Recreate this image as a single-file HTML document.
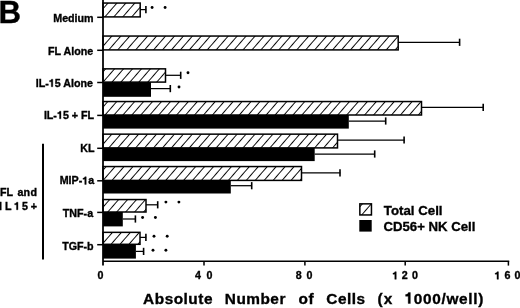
<!DOCTYPE html><html><head><meta charset="utf-8"><style>html,body{margin:0;padding:0;background:#fff;}body{width:520px;height:308px;overflow:hidden;}svg{display:block;}text{font-family:"Liberation Sans",sans-serif;font-weight:bold;fill:#000;stroke:#000;stroke-width:0.35px;}svg{will-change:transform;}.o{fill:none;stroke:none;}</style></head><body><svg width="520" height="308" viewBox="0 0 520 308"><defs><pattern id="p0" patternUnits="userSpaceOnUse" width="6.755" height="6.755" patternTransform="translate(7.697 0) rotate(41.0)"><line x1="3.377" y1="-1" x2="3.377" y2="7.755" stroke="#000" stroke-width="0.95"/></pattern><pattern id="p1" patternUnits="userSpaceOnUse" width="6.755" height="6.755" patternTransform="translate(4.483 0) rotate(41.0)"><line x1="3.377" y1="-1" x2="3.377" y2="7.755" stroke="#000" stroke-width="0.95"/></pattern><pattern id="p2" patternUnits="userSpaceOnUse" width="6.755" height="6.755" patternTransform="translate(8.848 0) rotate(41.0)"><line x1="3.377" y1="-1" x2="3.377" y2="7.755" stroke="#000" stroke-width="0.95"/></pattern><pattern id="p3" patternUnits="userSpaceOnUse" width="6.755" height="6.755" patternTransform="translate(3.648 0) rotate(41.0)"><line x1="3.377" y1="-1" x2="3.377" y2="7.755" stroke="#000" stroke-width="0.95"/></pattern><pattern id="p4" patternUnits="userSpaceOnUse" width="6.755" height="6.755" patternTransform="translate(0.173 0) rotate(41.0)"><line x1="3.377" y1="-1" x2="3.377" y2="7.755" stroke="#000" stroke-width="0.95"/></pattern><pattern id="p5" patternUnits="userSpaceOnUse" width="6.755" height="6.755" patternTransform="translate(4.799 0) rotate(41.0)"><line x1="3.377" y1="-1" x2="3.377" y2="7.755" stroke="#000" stroke-width="0.95"/></pattern><pattern id="p6" patternUnits="userSpaceOnUse" width="6.755" height="6.755" patternTransform="translate(1.195 0) rotate(41.0)"><line x1="3.377" y1="-1" x2="3.377" y2="7.755" stroke="#000" stroke-width="0.95"/></pattern><pattern id="p7" patternUnits="userSpaceOnUse" width="6.755" height="6.755" patternTransform="translate(5.694 0) rotate(41.0)"><line x1="3.377" y1="-1" x2="3.377" y2="7.755" stroke="#000" stroke-width="0.95"/></pattern><pattern id="p8" patternUnits="userSpaceOnUse" width="6.755" height="6.755" patternTransform="translate(7.026 0) rotate(41.0)"><line x1="3.377" y1="-1" x2="3.377" y2="7.755" stroke="#000" stroke-width="0.95"/></pattern></defs><rect width="520" height="308" fill="#fff"/><text x="-1.49" y="22.60" font-size="31.2">B</text><rect x="103.0" y="3.05" width="37.20" height="13.85" fill="url(#p0)" stroke="#000" stroke-width="1.5"/><path d="M140.20 9.60H146.20" stroke="#000" stroke-width="1.25" fill="none"/><path d="M145.90 6.00V13.20" stroke="#000" stroke-width="1.6" fill="none"/><circle cx="152.1" cy="7.5" r="1.45"/><circle cx="165.1" cy="7.5" r="1.45"/><path d="M97.2 17.30H103.0" stroke="#000" stroke-width="1.5"/><text x="53.24" y="22.00" font-size="10.7">Medium</text><rect x="103.0" y="36.05" width="295.20" height="13.85" fill="url(#p1)" stroke="#000" stroke-width="1.5"/><path d="M398.20 42.30H459.90" stroke="#000" stroke-width="1.25" fill="none"/><path d="M459.60 38.70V45.90" stroke="#000" stroke-width="1.6" fill="none"/><path d="M97.2 50.30H103.0" stroke="#000" stroke-width="1.5"/><text x="48.10" y="54.80" font-size="10.7">FL Alone</text><rect x="103.0" y="68.85" width="62.50" height="13.25" fill="url(#p2)" stroke="#000" stroke-width="1.5"/><path d="M165.50 75.30H181.00" stroke="#000" stroke-width="1.25" fill="none"/><path d="M180.70 71.70V78.90" stroke="#000" stroke-width="1.6" fill="none"/><circle cx="188.0" cy="72.8" r="1.45"/><rect x="103.0" y="82.10" width="48.00" height="14.70" fill="#000"/><path d="M151.00 88.60H170.60" stroke="#000" stroke-width="1.25" fill="none"/><path d="M170.30 85.00V92.20" stroke="#000" stroke-width="1.6" fill="none"/><circle cx="179.0" cy="87.0" r="1.45"/><path d="M97.2 82.50H103.0" stroke="#000" stroke-width="1.5"/><text x="35.70" y="86.80" font-size="10.7">IL-<tspan class="o">1</tspan>5 Alone</text><rect x="103.0" y="101.55" width="318.50" height="13.45" fill="url(#p3)" stroke="#000" stroke-width="1.5"/><path d="M421.50 107.30H483.50" stroke="#000" stroke-width="1.25" fill="none"/><path d="M483.20 103.70V110.90" stroke="#000" stroke-width="1.6" fill="none"/><rect x="103.0" y="115.00" width="245.80" height="13.60" fill="#000"/><path d="M348.80 121.00H386.00" stroke="#000" stroke-width="1.25" fill="none"/><path d="M385.70 117.40V124.60" stroke="#000" stroke-width="1.6" fill="none"/><path d="M97.2 115.40H103.0" stroke="#000" stroke-width="1.5"/><text x="43.89" y="118.80" font-size="10.7">IL-<tspan class="o">1</tspan>5 + FL</text><rect x="103.0" y="134.15" width="234.50" height="13.75" fill="url(#p4)" stroke="#000" stroke-width="1.5"/><path d="M337.50 140.00H404.40" stroke="#000" stroke-width="1.25" fill="none"/><path d="M404.10 136.40V143.60" stroke="#000" stroke-width="1.6" fill="none"/><rect x="103.0" y="147.90" width="211.70" height="13.20" fill="#000"/><path d="M314.70 154.00H375.00" stroke="#000" stroke-width="1.25" fill="none"/><path d="M374.70 150.40V157.60" stroke="#000" stroke-width="1.6" fill="none"/><path d="M97.2 148.30H103.0" stroke="#000" stroke-width="1.5"/><text x="80.27" y="151.60" font-size="10.7">KL</text><rect x="103.0" y="166.55" width="198.50" height="13.85" fill="url(#p5)" stroke="#000" stroke-width="1.5"/><path d="M301.50 172.80H340.30" stroke="#000" stroke-width="1.25" fill="none"/><path d="M340.00 169.20V176.40" stroke="#000" stroke-width="1.6" fill="none"/><rect x="103.0" y="180.40" width="127.80" height="13.10" fill="#000"/><path d="M230.80 185.70H252.00" stroke="#000" stroke-width="1.25" fill="none"/><path d="M251.70 182.10V189.30" stroke="#000" stroke-width="1.6" fill="none"/><path d="M97.2 180.80H103.0" stroke="#000" stroke-width="1.5"/><text x="59.64" y="184.40" font-size="10.7">MIP-<tspan class="o">1</tspan>a</text><rect x="103.0" y="199.55" width="43.00" height="12.45" fill="url(#p6)" stroke="#000" stroke-width="1.5"/><path d="M146.00 204.80H158.00" stroke="#000" stroke-width="1.25" fill="none"/><path d="M157.70 201.20V208.40" stroke="#000" stroke-width="1.6" fill="none"/><circle cx="165.9" cy="202.1" r="1.45"/><circle cx="178.9" cy="202.1" r="1.45"/><rect x="103.0" y="212.00" width="19.80" height="14.40" fill="#000"/><path d="M122.80 219.00H135.70" stroke="#000" stroke-width="1.25" fill="none"/><path d="M135.40 215.40V222.60" stroke="#000" stroke-width="1.6" fill="none"/><circle cx="142.6" cy="217.5" r="1.45"/><circle cx="155.4" cy="217.5" r="1.45"/><path d="M97.2 212.40H103.0" stroke="#000" stroke-width="1.5"/><text x="62.82" y="217.30" font-size="10.7">TNF-a</text><rect x="103.0" y="232.35" width="37.00" height="11.95" fill="url(#p7)" stroke="#000" stroke-width="1.5"/><path d="M140.00 237.40H146.20" stroke="#000" stroke-width="1.25" fill="none"/><path d="M145.90 233.80V241.00" stroke="#000" stroke-width="1.6" fill="none"/><circle cx="154.0" cy="236.3" r="1.45"/><circle cx="167.2" cy="236.3" r="1.45"/><rect x="103.0" y="244.30" width="32.90" height="14.30" fill="#000"/><path d="M135.90 251.40H143.90" stroke="#000" stroke-width="1.25" fill="none"/><path d="M143.60 247.80V255.00" stroke="#000" stroke-width="1.6" fill="none"/><circle cx="153.0" cy="250.2" r="1.45"/><circle cx="165.9" cy="250.2" r="1.45"/><path d="M97.2 244.70H103.0" stroke="#000" stroke-width="1.5"/><text x="62.14" y="250.00" font-size="10.7">TGF-b</text><path d="M103.0 0V265.6" stroke="#000" stroke-width="1.75" fill="none"/><path d="M103.0 261.15H509.2" stroke="#000" stroke-width="1.5" fill="none"/><path d="M204.00 261V265.6" stroke="#000" stroke-width="1.5"/><path d="M304.90 261V265.6" stroke="#000" stroke-width="1.5"/><path d="M405.20 261V265.6" stroke="#000" stroke-width="1.5"/><path d="M508.40 261V265.6" stroke="#000" stroke-width="1.5"/><text x="97.58" y="279.30" font-size="10.7">0</text><text x="194.94" y="279.30" font-size="10.7">4</text><text x="206.38" y="279.30" font-size="10.7">0</text><text x="295.86" y="279.30" font-size="10.7">8</text><text x="306.58" y="279.30" font-size="10.7">0</text><text x="392.23" y="279.30" font-size="10.7"><tspan class="o">1</tspan></text><text x="401.63" y="279.30" font-size="10.7">2</text><text x="411.98" y="279.30" font-size="10.7">0</text><text x="494.43" y="279.30" font-size="10.7"><tspan class="o">1</tspan></text><text x="504.61" y="279.30" font-size="10.7">6</text><text x="514.48" y="279.30" font-size="10.7">0</text><path d="M43 143.8V259.5" stroke="#000" stroke-width="2" fill="none"/><text x="-0.12" y="195.80" font-size="10.7">FL</text><text x="17.39" y="195.80" font-size="10.7" letter-spacing="0.3">and</text><text x="-1.02" y="209.80" font-size="10.7">I</text><text x="4.88" y="209.80" font-size="10.7">L</text><text x="13.93" y="209.80" font-size="10.7"><tspan class="o">1</tspan></text><text x="21.97" y="209.80" font-size="10.7">5</text><text x="30.85" y="209.80" font-size="10.7">+</text><rect x="359.85" y="203.85" width="11.6" height="11.1" fill="url(#p8)" stroke="#000" stroke-width="1.5"/><rect x="359.3" y="220" width="12.4" height="11.6" fill="#000"/><text x="383.85" y="215.00" font-size="13.25">Total Cell</text><text x="383.46" y="231.20" font-size="13.2">CD56+ NK Cell</text><text x="143.12" y="303.50" font-size="15.4" letter-spacing="0.5">Absolute</text><text x="224.77" y="303.50" font-size="15.4" letter-spacing="0.5">Number</text><text x="298.60" y="303.50" font-size="15.4" letter-spacing="0.5">of</text><text x="326.37" y="303.50" font-size="15.4" letter-spacing="0.5">Cells</text><text x="377.43" y="303.50" font-size="15.4" letter-spacing="1.2">(x</text><text x="404.53" y="303.50" font-size="15.4" letter-spacing="0.68"><tspan class="o">1</tspan>000/well)</text><g fill="#000" stroke="#000"><path transform="translate(48.76 86.80) scale(0.01070 -0.01070)" d="M378 0H238V470H69V581C161 584 228 620 250 710H378Z" stroke-width="32.7"/><path transform="translate(56.95 118.80) scale(0.01070 -0.01070)" d="M378 0H238V470H69V581C161 584 228 620 250 710H378Z" stroke-width="32.7"/><path transform="translate(82.20 184.40) scale(0.01070 -0.01070)" d="M378 0H238V470H69V581C161 584 228 620 250 710H378Z" stroke-width="32.7"/><path transform="translate(392.23 279.30) scale(0.01070 -0.01070)" d="M378 0H238V470H69V581C161 584 228 620 250 710H378Z" stroke-width="32.7"/><path transform="translate(494.43 279.30) scale(0.01070 -0.01070)" d="M378 0H238V470H69V581C161 584 228 620 250 710H378Z" stroke-width="32.7"/><path transform="translate(13.93 209.80) scale(0.01070 -0.01070)" d="M378 0H238V470H69V581C161 584 228 620 250 710H378Z" stroke-width="32.7"/><path transform="translate(404.53 303.50) scale(0.01540 -0.01540)" d="M378 0H238V470H69V581C161 584 228 620 250 710H378Z" stroke-width="22.7"/></g></svg></body></html>
